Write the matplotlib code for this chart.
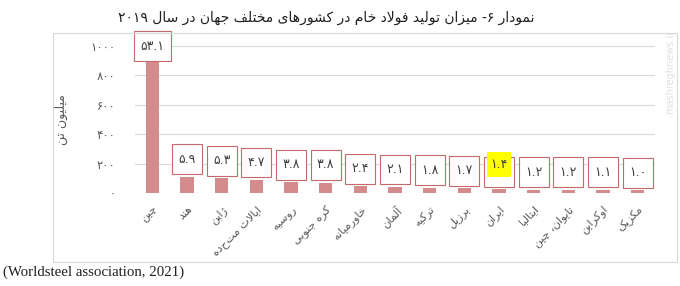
import re
import matplotlib
matplotlib.use("Agg")
import matplotlib.pyplot as plt
from matplotlib.patches import Rectangle

# data (2019, million tonnes, share in %)
countries = ["چین", "هند", "ژاپن", "ایالات متحده", "روسیه", "کره جنوبی", "خاورمیانه",
             "آلمان", "ترکیه", "برزیل", "ایران", "ایتالیا", "تایوان، چین", "اوکراین", "مکزیک"]
production = [996, 111, 99, 88, 72, 71, 45, 40, 34, 32, 26, 23, 22, 21, 18]
shares = ["۵۳.۱", "۵.۹", "۵.۳", "۴.۷", "۳.۸", "۳.۸", "۲.۴", "۲.۱", "۱.۸", "۱.۷",
          "۱.۴", "۱.۲", "۱.۲", "۱.۱", "۱.۰"]
yticks = [0, 200, 400, 600, 800, 1000]
ytick_labels = ["۰", "۲۰۰", "۴۰۰", "۶۰۰", "۸۰۰", "۱۰۰۰"]
title = "نمودار ۶- میزان تولید فولاد خام در کشورهای مختلف جهان در سال ۲۰۱۹"
ylabel = "میلیون تن"
source = "(Worldsteel association, 2021)"
highlight = "ایران"

# small arabic/persian shaper: (isolated, final, initial, medial)
FORMS = {
    "ا": ("\uFE8D", "\uFE8E", None, None),
    "آ": ("\uFE81", "\uFE82", None, None),
    "ب": ("\uFE8F", "\uFE90", "\uFE91", "\uFE92"),
    "پ": ("\uFB56", "\uFB57", "\uFB58", "\uFB59"),
    "ت": ("\uFE95", "\uFE96", "\uFE97", "\uFE98"),
    "ج": ("\uFE9D", "\uFE9E", "\uFE9F", "\uFEA0"),
    "چ": ("\uFB7A", "\uFB7B", "\uFB7C", "\uFB7D"),
    "خ": ("\uFEA5", "\uFEA6", "\uFEA7", "\uFEA8"),
    "د": ("\uFEA9", "\uFEAA", None, None),
    "ر": ("\uFEAD", "\uFEAE", None, None),
    "ز": ("\uFEAF", "\uFEB0", None, None),
    "ژ": ("\uFB8A", "\uFB8B", None, None),
    "س": ("\uFEB1", "\uFEB2", "\uFEB3", "\uFEB4"),
    "ش": ("\uFEB5", "\uFEB6", "\uFEB7", "\uFEB8"),
    "ف": ("\uFED1", "\uFED2", "\uFED3", "\uFED4"),
    "ک": ("\uFB8E", "\uFB8F", "\uFB90", "\uFB91"),
    "ل": ("\uFEDD", "\uFEDE", "\uFEDF", "\uFEE0"),
    "م": ("\uFEE1", "\uFEE2", "\uFEE3", "\uFEE4"),
    "ن": ("\uFEE5", "\uFEE6", "\uFEE7", "\uFEE8"),
    "ه": ("\uFEE9", "\uFEEA", "\uFEEB", "\uFEEC"),
    "و": ("\uFEED", "\uFEEE", None, None),
    "ی": ("\uFBFC", "\uFBFD", "\uFBFE", "\uFBFF"),
    "لا": ("\uFEFB", "\uFEFC", None, None),
}


def fa(s):
    toks = []
    i = 0
    while i < len(s):
        if s[i] == "ل" and i + 1 < len(s) and s[i + 1] == "ا":
            toks.append("لا")
            i += 2
        else:
            toks.append(s[i])
            i += 1
    out = []
    for k, t in enumerate(toks):
        if t not in FORMS:
            out.append(t)
            continue
        iso, fin, ini, med = FORMS[t]
        prev = toks[k - 1] if k > 0 else None
        nxt = toks[k + 1] if k + 1 < len(toks) else None
        jp = prev in FORMS and FORMS[prev][2] is not None
        jn = ini is not None and nxt in FORMS
        out.append(med if (jp and jn) else fin if jp else ini if jn else iso)
    runs = re.findall(r"[۰-۹0-9.]+|.", "".join(out))
    return "".join(runs[::-1])


plt.rcParams["font.family"] = ["DejaVu Sans"]
grey = "#595959"

fig = plt.figure(figsize=(6.8, 2.86), dpi=100)
ax = fig.add_axes([135 / 680, 1 - 193 / 286, 520 / 680, 147 / 286])

x = range(len(countries))
ax.bar(x, production, width=0.38, color="#d48b8b", zorder=3)
ax.set_xlim(-0.5, len(countries) - 0.5)
ax.set_ylim(0, 1000)
ax.set_yticks(yticks)
ax.set_yticklabels(ytick_labels, fontsize=8.5, color=grey)
ax.tick_params(axis="y", length=0, pad=14)
ax.set_xticks(list(x))
ax.set_xticklabels([fa(c) for c in countries], rotation=45, ha="right",
                   rotation_mode="anchor", fontsize=8, color=grey)
ax.tick_params(axis="x", length=0, pad=8)
ax.grid(axis="y", color="#d9d9d9", linewidth=0.8, zorder=0)
for s in ax.spines.values():
    s.set_visible(False)
ax.set_ylabel(fa(ylabel), fontsize=9, color=grey, labelpad=16)

box = dict(boxstyle="square,pad=0.5", fc="white", ec="#c46a6a", lw=0.8,
           mutation_aspect=1.35)
for i, (v, lab) in enumerate(zip(production, shares)):
    tcol = "none" if countries[i] == highlight else "#404040"
    if v > 900:
        ax.text(i, 1000, lab, ha="center", va="center", fontsize=9, color=tcol,
                bbox=box, zorder=4, clip_on=False)
    else:
        ax.annotate(lab, (i, v), xytext=(0, 8), textcoords="offset points",
                    ha="center", va="bottom", fontsize=9, color=tcol,
                    bbox=box, zorder=4)
    if countries[i] == highlight:
        # yellow marker on the Iran label
        ax.annotate(lab, (i, v), xytext=(0, 13), textcoords="offset points",
                    ha="center", va="bottom", fontsize=9, color="#404040",
                    bbox=dict(boxstyle="square,pad=0.25", fc="#ffff00", ec="none",
                              mutation_aspect=1.8),
                    zorder=5)

# outer chart frame
fig.patches.append(Rectangle((53 / 680, 1 - 262 / 286), 624 / 680, 229 / 286,
                             transform=fig.transFigure, fill=False,
                             ec="#d9d9d9", lw=0.8))

fig.text(0.48, 1 - 18 / 286, fa(title), ha="center", va="center", fontsize=10, color="#202020")
fig.text(0.005, 1 - 272 / 286, source, ha="left", va="center", fontsize=10.7,
         family="Liberation Serif", color="#202020")
fig.text(0.985, 0.75, "mashreghnews.ir", rotation=90, ha="center", va="center",
         fontsize=7, color="#e0e0e0")

fig.savefig("out.png", dpi=100)
